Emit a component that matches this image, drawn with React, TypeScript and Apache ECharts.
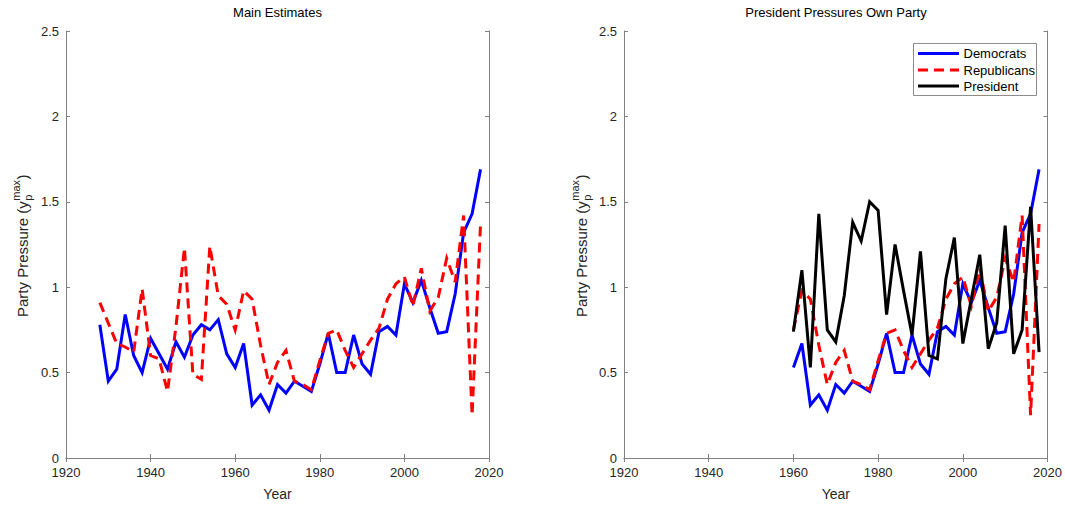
import React, { useEffect, useRef } from "react";
import * as echarts from "echarts";

const years = [
  1928, 1930, 1932, 1934, 1936, 1938, 1940, 1942, 1944, 1946,
  1948, 1950, 1952, 1954, 1956, 1958, 1960, 1962, 1964, 1966,
  1968, 1970, 1972, 1974, 1976, 1978, 1980, 1982, 1984, 1986,
  1988, 1990, 1992, 1994, 1996, 1998, 2000, 2002, 2004, 2006,
  2008, 2010, 2012, 2014, 2016, 2018,
];

const democrats = [
  0.78, 0.45, 0.52, 0.84, 0.6, 0.5, 0.7, 0.61, 0.52, 0.68,
  0.59, 0.72, 0.78, 0.75, 0.81, 0.61, 0.53, 0.67, 0.31, 0.37,
  0.28, 0.43, 0.38, 0.45, 0.42, 0.39, 0.55, 0.73, 0.5, 0.5,
  0.72, 0.55, 0.49, 0.74, 0.77, 0.72, 1.02, 0.91, 1.04, 0.88,
  0.73, 0.74, 0.96, 1.32, 1.43, 1.69,
];

const republicans = [
  0.91, 0.79, 0.67, 0.65, 0.62, 0.99, 0.6, 0.58, 0.39, 0.77,
  1.23, 0.49, 0.46, 1.24, 0.95, 0.9, 0.75, 0.98, 0.93, 0.66,
  0.43, 0.56, 0.63, 0.45, 0.43, 0.4, 0.57, 0.73, 0.75, 0.63,
  0.53, 0.61, 0.69, 0.76, 0.93, 1.02, 1.06, 0.89, 1.11, 0.86,
  0.94, 1.17, 1.03, 1.42, 0.25, 1.37,
];

const presidentYears = [
  1960, 1962, 1964, 1966, 1968, 1970, 1972, 1974, 1976, 1978,
  1980, 1982, 1984, 1986, 1988, 1990, 1992, 1994, 1996, 1998,
  2000, 2002, 2004, 2006, 2008, 2010, 2012, 2014, 2016, 2018,
];

const president = [
  0.74, 1.1, 0.53, 1.43, 0.75, 0.68, 0.95, 1.38, 1.27, 1.5,
  1.45, 0.84, 1.25, 0.98, 0.72, 1.21, 0.6, 0.58, 1.05, 1.29,
  0.67, 0.93, 1.19, 0.64, 0.79, 1.36, 0.61, 0.75, 1.47, 0.62,
];

const seriesNames = ["Democrats", "Republicans", "President"];
const seriesColors = ["#0000ff", "#ff0000", "#000000"];
const seriesDashed = [false, true, false];

const xTicks = [1920, 1940, 1960, 1980, 2000, 2020];
const yTicks = [0, 0.5, 1, 1.5, 2, 2.5];
const titles = ["Main Estimates", "President Pressures Own Party"];
const rightStartYear = 1960;

const FONT = "'Liberation Sans', Arial, Helvetica, sans-serif";
const AXIS_COLOR = "#808080";
const TEXT_COLOR = "#262626";
const DASH = [10, 6];

export default function App() {
  const ref = useRef<HTMLDivElement>(null);

  useEffect(() => {
    if (!ref.current) return;
    const chart = echarts.init(ref.current, null, { renderer: "svg" });

    const pair = (xs: number[], ys: number[]) => xs.map((x, i) => [x, ys[i]]);
    const startIdx = years.indexOf(rightStartYear);
    const demAll = pair(years, democrats);
    const repAll = pair(years, republicans);
    const demRight = demAll.slice(startIdx);
    const repRight = repAll.slice(startIdx);
    const presData = pair(presidentYears, president);

    const grids = [
      { left: 66, top: 31, width: 423, height: 430 },
      { left: 624, top: 31, width: 424, height: 430 },
    ];

    const xMin = xTicks[0];
    const xMax = xTicks[xTicks.length - 1];
    const xInt = xTicks[1] - xTicks[0];
    const yMin = yTicks[0];
    const yMax = yTicks[yTicks.length - 1];
    const yInt = yTicks[1] - yTicks[0];

    const axisLine = { show: true, lineStyle: { color: AXIS_COLOR, width: 1 } };
    const axisTick = { show: true, inside: true, length: 4, lineStyle: { color: AXIS_COLOR } };

    const xAxes: any[] = [];
    const yAxes: any[] = [];
    grids.forEach((_, g) => {
      xAxes.push({
        type: "value",
        gridIndex: g,
        position: "bottom",
        min: xMin,
        max: xMax,
        interval: xInt,
        name: "Year",
        nameLocation: "middle",
        nameGap: 29,
        nameTextStyle: { fontFamily: FONT, fontSize: 14, color: TEXT_COLOR },
        axisLine,
        axisTick,
        axisLabel: {
          show: true,
          margin: 8,
          fontFamily: FONT,
          fontSize: 13,
          color: TEXT_COLOR,
          formatter: (v: number) => String(v),
        },
        splitLine: { show: false },
      });
      xAxes.push({
        type: "value",
        gridIndex: g,
        position: "top",
        min: xMin,
        max: xMax,
        interval: xInt,
        axisLine,
        axisTick,
        axisLabel: { show: false },
        splitLine: { show: false },
      });
      yAxes.push({
        type: "value",
        gridIndex: g,
        position: "left",
        min: yMin,
        max: yMax,
        interval: yInt,
        axisLine,
        axisTick,
        axisLabel: {
          show: true,
          margin: 7,
          fontFamily: FONT,
          fontSize: 13,
          color: TEXT_COLOR,
        },
        splitLine: { show: false },
      });
      yAxes.push({
        type: "value",
        gridIndex: g,
        position: "right",
        min: yMin,
        max: yMax,
        interval: yInt,
        axisLine,
        axisTick,
        axisLabel: { show: false },
        splitLine: { show: false },
      });
    });

    const lineSeries = (k: number, data: number[][], axisIdx: number) => ({
      name: seriesNames[k],
      type: "line",
      data,
      xAxisIndex: axisIdx,
      yAxisIndex: axisIdx,
      symbol: "none",
      showSymbol: false,
      lineStyle: {
        color: seriesColors[k],
        width: 3,
        type: seriesDashed[k] ? DASH : "solid",
        cap: "butt",
        join: "miter",
      },
      itemStyle: { color: seriesColors[k] },
      emphasis: { disabled: true },
    });

    const txt = (text: string, x: number, y: number, size: number, fill: string) => ({
      type: "text",
      x,
      y,
      style: {
        text,
        fontFamily: FONT,
        fontSize: size,
        fill,
        textAlign: "left",
        textVerticalAlign: "middle",
        align: "left",
        verticalAlign: "middle",
      },
    });

    const yLabel = (cx: number) => ({
      type: "group",
      x: cx,
      y: 246,
      rotation: Math.PI / 2,
      children: [
        txt("Party Pressure (y", -71, 0, 15, TEXT_COLOR),
        txt("max", 45.3, -6.5, 11, TEXT_COLOR),
        txt("p", 45.3, 5.5, 11, TEXT_COLOR),
        txt(")", 66.5, 0, 15, TEXT_COLOR),
      ],
    });

    const legendBox = { x: 913, y: 43, w: 123, h: 52 };
    const legendRows = [53.5, 70, 86];
    const legend = {
      type: "group",
      children: [
        {
          type: "rect",
          shape: { x: legendBox.x + 0.5, y: legendBox.y + 0.5, width: legendBox.w, height: legendBox.h },
          style: { fill: "#ffffff", stroke: "#8c8c8c", lineWidth: 1 },
          z: 10,
        },
        ...seriesNames.flatMap((name, k) => [
          {
            type: "line",
            shape: { x1: 918, y1: legendRows[k], x2: 959, y2: legendRows[k] },
            style: {
              stroke: seriesColors[k],
              lineWidth: 3,
              lineDash: seriesDashed[k] ? DASH : null,
              lineCap: "butt",
            },
            z: 11,
          },
          { ...txt(name, 963.5, legendRows[k], 13, "#000000"), z: 11 },
        ]),
      ],
    };

    const option: any = {
      animation: false,
      backgroundColor: "#ffffff",
      title: titles.map((t, i) => ({
        text: t,
        left: grids[i].left + grids[i].width / 2,
        textAlign: "center",
        top: 6,
        padding: 0,
        textStyle: { fontFamily: FONT, fontSize: 13, fontWeight: "normal", color: "#000000" },
      })),
      grid: grids.map((g) => ({ ...g, containLabel: false })),
      xAxis: xAxes,
      yAxis: yAxes,
      series: [
        lineSeries(0, demAll, 0),
        lineSeries(1, repAll, 0),
        lineSeries(0, demRight, 2),
        lineSeries(1, repRight, 2),
        lineSeries(2, presData, 2),
      ],
      graphic: [yLabel(22), yLabel(581), legend],
    };

    chart.setOption(option);
    return () => chart.dispose();
  }, []);

  return (
    <div
      ref={ref}
      style={{ position: "fixed", left: 0, top: 0, width: 1065, height: 506, background: "#fff" }}
    />
  );
}
